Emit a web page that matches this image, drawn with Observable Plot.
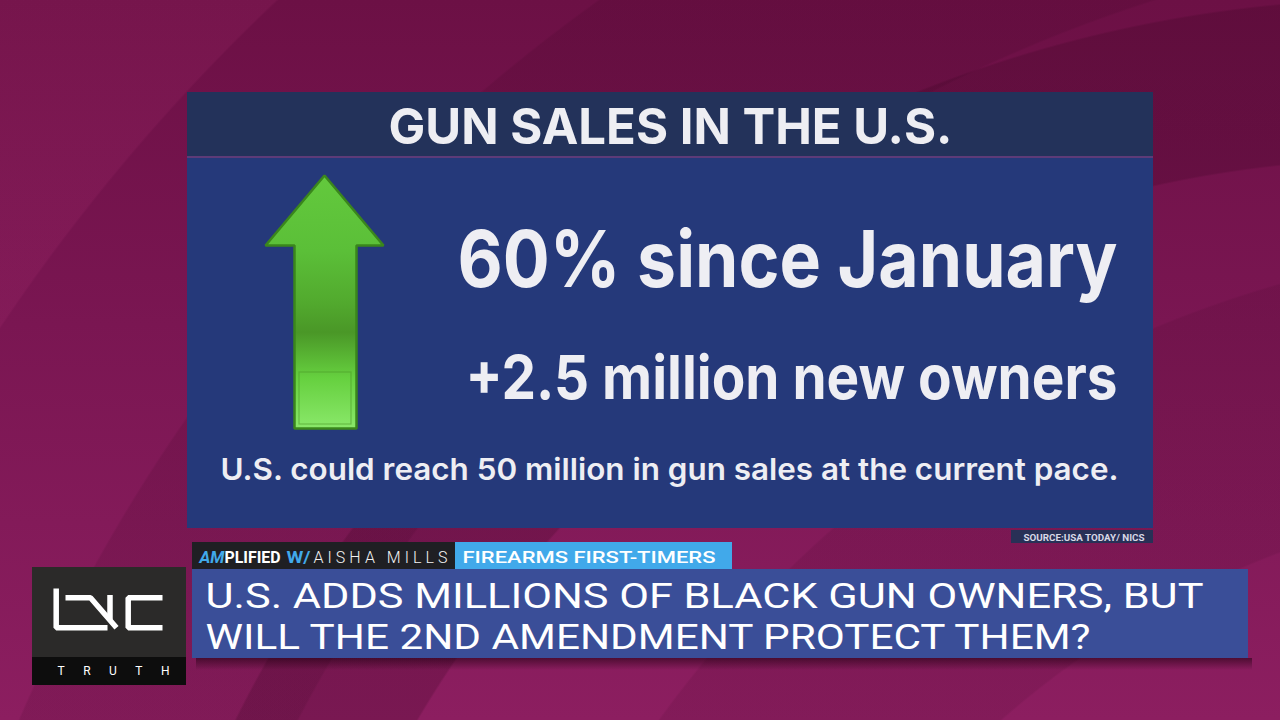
<!DOCTYPE html>
<html>
<head>
<meta charset="utf-8">
<script src="https://cdn.jsdelivr.net/npm/d3@7"></script>
<script src="https://cdn.jsdelivr.net/npm/@observablehq/plot@0.6"></script>
<style>
html, body { margin: 0; padding: 0; background: #7a1652; }
#stage {
  position: relative; width: 1280px; height: 720px; overflow: hidden;
  background:
    radial-gradient(circle at 1400px 1300px, transparent 1140px, rgba(45,0,25,0.20) 1142px, rgba(45,0,25,0.20) 1300px, transparent 1302px),
    radial-gradient(circle at 1600px 1400px, transparent 905px, rgba(45,0,25,0.10) 907px, rgba(45,0,25,0.10) 1160px, transparent 1162px),
    radial-gradient(circle at 1600px 1400px, transparent 1468px, rgba(45,0,25,0.12) 1470px, rgba(45,0,25,0.12) 1720px, transparent 1722px),
    radial-gradient(circle at 1600px 1400px, transparent 1925px, rgba(255,90,170,0.07) 1927px),
    linear-gradient(to bottom, #6c1045 0%, #7a1652 45%, #8c1e60 100%);
}
#stage svg { position: absolute; left: 0; top: 0; }
</style>
</head>
<body>
<div id="stage"></div>
<script>
// ---------- DATA (text content and values read from the graphic) ----------
const headerTitle = "GUN SALES IN THE U.S.";
const increasePct = 60;
const sinceMonth = "January";
const newOwnersMillions = 2.5;
const projectedSalesMillions = 50;
const statLines = [`${increasePct}% since ${sinceMonth}`, `+${newOwnersMillions} million new owners`];
const noteLine = `U.S. could reach ${projectedSalesMillions} million in gun sales at the current pace.`;
const sourceLabel = "SOURCE:USA TODAY/ NICS";
const showParts = ["AM", "PLIFIED", "W/", "AISHA MILLS"];
const segmentLabel = "FIREARMS FIRST-TIMERS";
const headlineLines = ["U.S. ADDS MILLIONS OF BLACK GUN OWNERS, BUT", "WILL THE 2ND AMENDMENT PROTECT THEM?"];
const brandLabel = "TRUTH";

// ---------- LAYOUT (screen geometry of the broadcast graphic) ----------
const W = 1280, H = 720;
const panels = [
  {x1: 187, x2: 1153, y1: 92, y2: 156, fill: "#23325a"},
  {x1: 187, x2: 1153, y1: 156, y2: 158, fill: "#5d3b78"},
  {x1: 187, x2: 1153, y1: 158, y2: 528, fill: "#25397a"},
  {x1: 1011, x2: 1153, y1: 530, y2: 543, fill: "#283056"},
  {x1: 196, x2: 1252, y1: 658, y2: 670, fill: "url(#shadowGrad)"},
  {x1: 192, x2: 455, y1: 542, y2: 569, fill: "#1f1f23"},
  {x1: 455, x2: 732, y1: 542, y2: 569, fill: "#41a9ea"},
  {x1: 192, x2: 1248, y1: 569, y2: 658, fill: "#3a4e98"},
  {x1: 32, x2: 186, y1: 567, y2: 657, fill: "#2b2a29"},
  {x1: 32, x2: 186, y1: 657, y2: 685, fill: "#0d0d0d"}
];
const arrowShape = [
  {x: 324, y: 175}, {x: 383, y: 245}, {x: 356, y: 245}, {x: 356, y: 428},
  {x: 294, y: 428}, {x: 294, y: 245}, {x: 265, y: 245}
];
const arrowInner = [{x1: 299, x2: 351, y1: 372, y2: 424}];
const logoStrokes = [
  {id: "b", x: 55.7, y: 588}, {id: "b", x: 55.7, y: 627.3}, {id: "b", x: 107, y: 627.3},
  {id: "n", x: 65, y: 597.3}, {id: "n", x: 90, y: 597.3}, {id: "n", x: 116, y: 627.3},
  {id: "n2", x: 109.5, y: 594.5}, {id: "n2", x: 109.5, y: 619},
  {id: "c", x: 162, y: 597.3}, {id: "c", x: 127.7, y: 597.3}, {id: "c", x: 127.7, y: 627.3}, {id: "c", x: 162, y: 627.3}
];
const gotham = "Inter, 'Open Sans', Lato, sans-serif";
const cond = "Roboto, 'Liberation Sans', sans-serif";
const textItems = [
  {text: headerTitle, x: 388, y: 143, size: 50, weight: 700, family: gotham, color: "#eeeef3", width: 564},
  {text: statLines[0], x: 457, y: 286, size: 78, weight: 700, family: gotham, color: "#eeeef3", width: 660},
  {text: statLines[1], x: 465, y: 398, size: 61, weight: 700, family: gotham, color: "#eeeef3", width: 652},
  {text: noteLine, x: 220, y: 479, size: 30, weight: 600, family: gotham, color: "#eeeef3", width: 898},
  {text: sourceLabel, x: 1023, y: 540.5, size: 9.5, weight: 700, family: cond, color: "#d8d8e6", width: 121},
  {text: showParts[0], x: 199, y: 562, size: 16, weight: 700, style: "italic", family: cond, color: "#41a9ea", width: 25},
  {text: showParts[1], x: 224, y: 562, size: 16, weight: 700, family: cond, color: "#ffffff", width: 56},
  {text: showParts[2], x: 286, y: 562, size: 16, weight: 700, family: cond, color: "#41a9ea", width: 24},
  {text: showParts[3], x: 313, y: 562, size: 16, weight: 300, family: cond, color: "#f2f2f2", width: 134, adjust: "spacing"},
  {text: segmentLabel, x: 462, y: 562, size: 17, weight: 500, family: cond, color: "#ffffff", width: 253},
  {text: headlineLines.join("\n"), x: 205, y: 648, size: 35, lineHeight: 41 / 35, weight: 400, family: cond, color: "#ffffff"},
  {text: brandLabel, x: 57, y: 674, size: 12, weight: 400, family: cond, color: "#ffffff", width: 112, adjust: "spacing"}
];
const lineFits = [
  {text: headlineLines[0], width: 998},
  {text: headlineLines[1], width: 885}
];

// ---------- DEFS (gradients) ----------
function defsMark() {
  const defs = d3.create("svg:defs");
  const g1 = defs.append("linearGradient").attr("id", "arrowGrad").attr("x1", 0).attr("y1", 0).attr("x2", 0).attr("y2", 1);
  [[0, "#63c93d"], [0.3, "#5bbf38"], [0.5, "#52aa2e"], [0.62, "#4a9727"], [0.8, "#66d03f"], [1, "#8ae86a"]]
    .forEach(([o, c]) => g1.append("stop").attr("offset", o).attr("stop-color", c));
  const g3 = defs.append("linearGradient").attr("id", "shadowGrad").attr("x1", 0).attr("y1", 0).attr("x2", 0).attr("y2", 1);
  [[0, "rgba(30,0,15,0.55)"], [1, "rgba(30,0,15,0)"]].forEach(([o, c]) => g3.append("stop").attr("offset", o).attr("stop-color", c));
  return defs.node();
}

const fitMap = new Map([...textItems.filter(d => d.width), ...lineFits].map(d => [d.text, d]));

const svg = Plot.plot({
  width: W, height: H, margin: 0,
  x: {domain: [0, W], axis: null},
  y: {domain: [0, H], range: [0, H], axis: null},
  color: {type: "identity"},
  style: {background: "transparent", overflow: "visible"},
  marks: [
    defsMark,
    Plot.rect(panels, {x1: "x1", x2: "x2", y1: "y1", y2: "y2", fill: "fill"}),
    Plot.line(arrowShape, {x: "x", y: "y", curve: "linear-closed", fill: "url(#arrowGrad)", stroke: "#3a861c", strokeWidth: 2.5, strokeLinejoin: "miter"}),
    Plot.rect(arrowInner, {x1: "x1", x2: "x2", y1: "y1", y2: "y2", fill: "none", stroke: "#4c9a28", strokeOpacity: 0.55, strokeWidth: 1.2}),
    Plot.line(logoStrokes, {x: "x", y: "y", z: "id", stroke: "#ffffff", strokeWidth: 5.5, strokeLinejoin: "miter", strokeLinecap: "butt"}),
    ...textItems.map(d => Plot.text([d], {
      x: "x", y: "y", text: "text", textAnchor: "start", lineAnchor: "bottom",
      lineHeight: d.lineHeight || 1,
      fontSize: d.size, fontWeight: d.weight, fontFamily: d.family, fontStyle: d.style || "normal",
      fill: d.color
    }))
  ]
});

d3.select(svg).selectAll("text, tspan").each(function () {
  const d = fitMap.get(this.textContent);
  if (d) {
    this.setAttribute("textLength", d.width);
    this.setAttribute("lengthAdjust", d.adjust || "spacingAndGlyphs");
  }
});

document.getElementById("stage").appendChild(svg);
</script>
</body>
</html>
